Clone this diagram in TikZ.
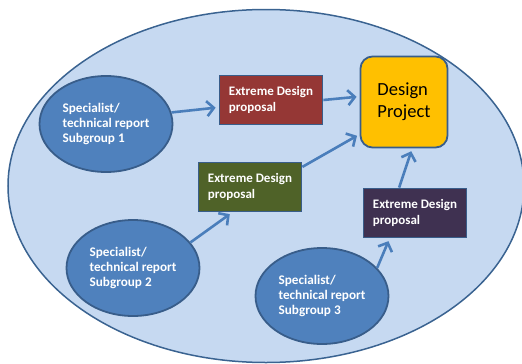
\documentclass[tikz,border=0pt]{standalone}
\usepackage{fontspec}
\setmainfont{Carlito}
\usetikzlibrary{shapes.geometric}
\usetikzlibrary{arrows.meta}
\definecolor{groupfill}{HTML}{C6D9F1}
\definecolor{groupline}{HTML}{3A6391}
\definecolor{subfill}{HTML}{4F81BD}
\definecolor{edgeblue}{HTML}{385D8A}
\definecolor{arrowblue}{HTML}{4A7EBB}
\definecolor{redprop}{HTML}{953735}
\definecolor{greenprop}{HTML}{4F6228}
\definecolor{purpleprop}{HTML}{3F3151}
\definecolor{projfill}{HTML}{FFC000}
\tikzset{subgroup/.style={ellipse,fill=subfill,draw=edgeblue,line width=1.8pt,inner sep=0pt,
minimum width=133pt, minimum height=96pt, align=left, text=white,
font=\fontsize{13.2}{15.3}\selectfont\bfseries},
proposal/.style={rectangle,draw=edgeblue,line width=1.8pt,minimum width=103pt,
minimum height=49pt, align=left, text=white, font=\fontsize{13}{15.3}\selectfont\bfseries},
project/.style={rectangle,rounded corners=12pt,fill=projfill,draw=edgeblue,line width=1.8pt,
minimum width=87pt, minimum height=91pt, align=left, font=\fontsize{18.5}{22}\selectfont},
link/.style={draw=arrowblue, line width=2.6pt, shorten >=3pt, ->},
>={Straight Barb[length=7pt,width=15pt]}}

\begin{document}
\begin{tikzpicture}[x=1pt,y=-1pt]
  \useasboundingbox (0,0) rectangle (522,364);
  \node (group) [ellipse,fill=groupfill,draw=groupline,line width=1.5pt,
    minimum width=516pt, minimum height=353pt] at (266,186) {};

  \node (sub1) [subgroup] at (106,124) {Specialist/\\technical report\\Subgroup 1};
  \node (sub2) [subgroup] at (133,268) {Specialist/\\technical report\\Subgroup 2};
  \node (sub3) [subgroup] at (322,296) {Specialist/\\technical report\\Subgroup 3};

  \node (prop1) [proposal,fill=redprop] at (271,100) {Extreme Design\\proposal};
  \node (prop2) [proposal,fill=greenprop] at (250,187) {Extreme Design\\proposal};
  \node (prop3) [proposal,fill=purpleprop] at (415,213) {Extreme Design\\proposal};

  \node (proj) [project] at (404,102) {Design\\Project};

  \draw [link] (sub1.10) -- (prop1.-172);
  \draw [link] (prop1.east) -- (proj.173);
  \draw [link] (sub2.24) -- (prop2.-125);
  \draw [link] (prop2.21) -- (proj.-144);
  \draw [link] (sub3.27) -- (prop3.-135);
  \draw [link] (prop3.122) -- (proj.-80);
\end{tikzpicture}
\end{document}
